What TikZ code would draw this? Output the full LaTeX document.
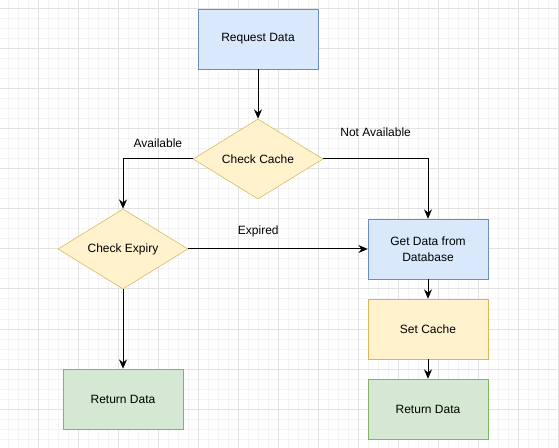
\documentclass[tikz,border=0pt]{standalone}
\usepackage{fontspec}
\setmainfont{Liberation Sans}
\usetikzlibrary{shapes.geometric,arrows.meta}

\definecolor{bluefill}{HTML}{DAE8FC}
\definecolor{bluedraw}{HTML}{6C8EBF}
\definecolor{yellowfill}{HTML}{FFF2CC}
\definecolor{yellowdraw}{HTML}{D6B656}
\definecolor{greenfill}{HTML}{D5E8D4}
\definecolor{greendraw}{HTML}{82B366}
\definecolor{minorline}{HTML}{F3F3F3}
\definecolor{majorline}{HTML}{E2E2E2}

\tikzset{
  box/.style={rectangle,draw,minimum width=90pt,minimum height=45pt,
    inner sep=2pt,align=center,font=\fontsize{9pt}{12pt}\selectfont},
  bluebox/.style={box,fill=bluefill,draw=bluedraw},
  yellowbox/.style={box,fill=yellowfill,draw=yellowdraw},
  greenbox/.style={box,fill=greenfill,draw=greendraw},
  decision/.style={diamond,draw=yellowdraw,fill=yellowfill,aspect=1.6,
    minimum width=97.5pt,minimum height=60pt,inner sep=0pt,
    font=\fontsize{9pt}{12pt}\selectfont},
  flow/.style={->,thick,line width=0.75pt},
  edgelabel/.style={font=\fontsize{9pt}{12pt}\selectfont,above=5pt}
}

\begin{document}
\begin{tikzpicture}[x=0.75pt,y=-0.75pt,>={Stealth[length=7pt,width=6pt]}]
            \useasboundingbox (0,0) rectangle (559,448);
            \fill[white](0,0) rectangle (559,448);
            % grid
            \foreach \x in {8,18,...,558} \draw[minorline,line width=0.75pt](\x,0)--(\x,448);
            \foreach \y in {9,19,...,448} \draw[minorline,line width=0.75pt](0,\y)--(559,\y);
            \foreach \x in {38,78,...,558} \draw[majorline,line width=0.75pt](\x,0)--(\x,448);
            \foreach \y in {9,49,...,448} \draw[majorline,line width=0.75pt](0,\y)--(559,\y);
            % nodes
            \node[bluebox](request) at (258,39){Request Data};
            \node[decision](cache) at (258,159){Check Cache};
            \node[decision](expiry) at (123,249){Check Expiry};
            \node[bluebox](database) at (428,249){Get Data from\\Database};
            \node[yellowbox](setcache) at (428,329){Set Cache};
            \node[greenbox](returnleft) at (123,399){Return Data};
            \node[greenbox](returnright) at (428,409){Return Data};
            % connectors
            \draw[flow](request)--(cache);
            \draw[flow](cache.west)-|node[edgelabel,pos=0.25]{Available}(expiry.north);
            \draw[flow](cache.east)-|node[edgelabel,above=8pt,pos=0.25]{Not Available}(database.north);
            \draw[flow](expiry.east)--node[edgelabel,pos=0.39]{Expired}(database.west);
            \draw[flow](expiry.south)--(returnleft.north);
            \draw[flow](database)--(setcache);
            \draw[flow](setcache)--(returnright);
        \end{tikzpicture}
\end{document}
